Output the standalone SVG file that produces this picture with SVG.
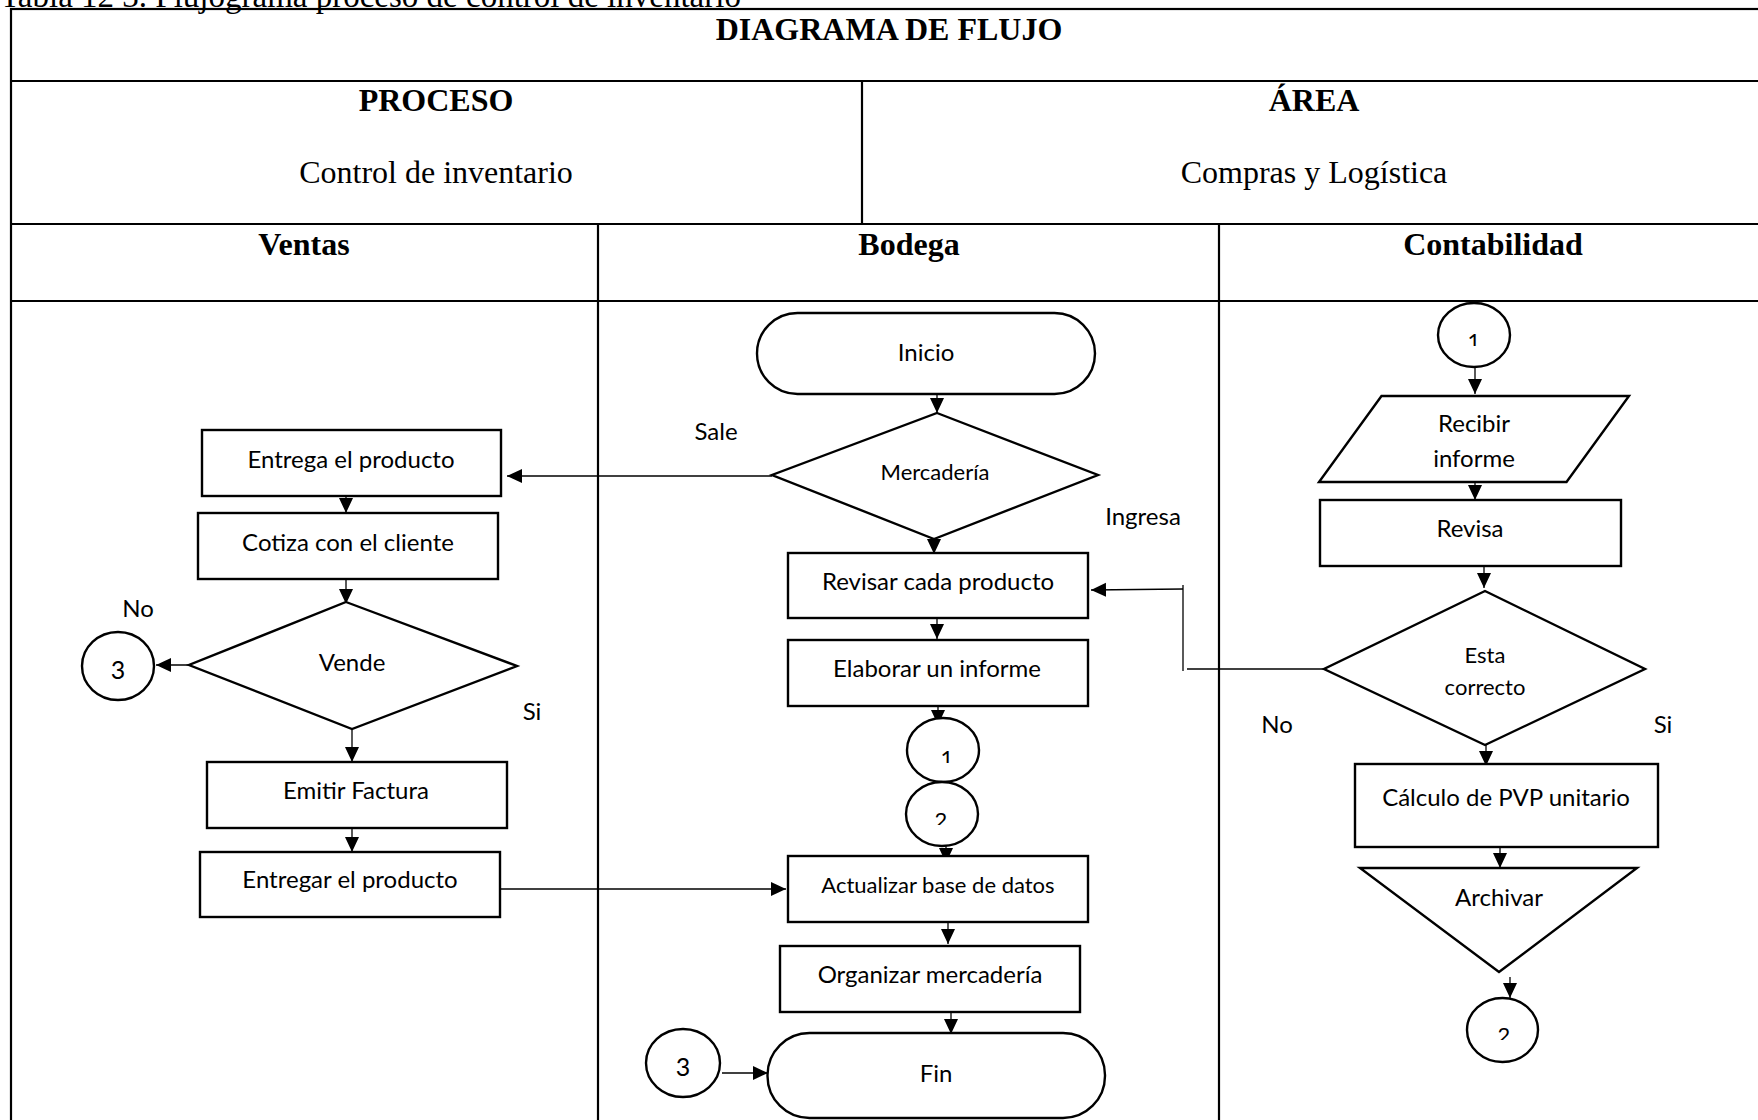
<svg xmlns="http://www.w3.org/2000/svg" width="1758" height="1120" viewBox="0 0 1758 1120">
<style>
.hd{font-family:"Liberation Serif","Times New Roman",serif;font-size:32px;fill:#000;text-anchor:middle}
.b{font-weight:bold}
.t{font-family:Lato,"Open Sans",sans-serif;font-size:24px;fill:#000;text-anchor:middle}
.s{font-size:22px}
.d{font-size:25px}
.grid{fill:none;stroke:#000;stroke-width:2.2}
.shape{fill:#fff;stroke:#000;stroke-width:2.4}
.c{fill:none;stroke:#000;stroke-width:1.3}
</style>
<defs>
<marker id="ah" markerUnits="userSpaceOnUse" markerWidth="16" markerHeight="15" refX="15" refY="7" orient="auto">
<path d="M0,0 L15,7 L0,14 Z" fill="#000"/>
</marker>
<clipPath id="cl1"><rect x="900" y="700" width="90" height="63"/></clipPath>
<clipPath id="cl2"><rect x="900" y="790" width="90" height="35"/></clipPath>
<clipPath id="cl3"><rect x="1430" y="300" width="90" height="46"/></clipPath>
<clipPath id="cl4"><rect x="1460" y="1000" width="90" height="40"/></clipPath>
</defs>
<rect width="1758" height="1120" fill="#fff"/>
<text class="hd" x="0" y="7" style="text-anchor:start;font-size:33px">Tabla 12 3. Flujograma proceso de control de inventario</text>
<g id="table">
<rect x="11" y="9" width="1756" height="1130" fill="#fff" class="grid"/>
<line class="grid" x1="11" y1="81" x2="1767" y2="81"/>
<line class="grid" x1="11" y1="224" x2="1767" y2="224"/>
<line class="grid" x1="11" y1="301" x2="1767" y2="301"/>
<line class="grid" x1="862" y1="81" x2="862" y2="224"/>
<line class="grid" x1="598" y1="224" x2="598" y2="1130"/>
<line class="grid" x1="1219" y1="224" x2="1219" y2="1130"/>
<text class="hd b" x="889" y="40">DIAGRAMA DE FLUJO</text>
<text class="hd b" x="436" y="111">PROCESO</text>
<text class="hd" x="436" y="183">Control de inventario</text>
<text class="hd b" x="1314" y="111">ÁREA</text>
<text class="hd" x="1314" y="183">Compras y Logística</text>
<text class="hd b" x="304" y="255">Ventas</text>
<text class="hd b" x="909" y="255">Bodega</text>
<text class="hd b" x="1493" y="255">Contabilidad</text>
</g>
<g id="connectors">
<line class="c" x1="937" y1="394" x2="937" y2="413" marker-end="url(#ah)"/>
<line class="c" x1="934" y1="539" x2="934" y2="554" marker-end="url(#ah)"/>
<line class="c" x1="772" y1="476" x2="507" y2="476" marker-end="url(#ah)"/>
<line class="c" x1="937" y1="616" x2="937" y2="639" marker-end="url(#ah)"/>
<line class="c" x1="938" y1="705" x2="938" y2="725" marker-end="url(#ah)"/>
<line class="c" x1="946" y1="843" x2="946" y2="863" marker-end="url(#ah)"/>
<line class="c" x1="500" y1="889" x2="786" y2="889" marker-end="url(#ah)"/>
<line class="c" x1="948" y1="918" x2="948" y2="944" marker-end="url(#ah)"/>
<line class="c" x1="951" y1="1012" x2="951" y2="1034" marker-end="url(#ah)"/>
<line class="c" x1="722" y1="1073" x2="768" y2="1073" marker-end="url(#ah)"/>
<line class="c" x1="346" y1="496" x2="346" y2="513" marker-end="url(#ah)"/>
<line class="c" x1="346" y1="579" x2="346" y2="604" marker-end="url(#ah)"/>
<line class="c" x1="189" y1="665" x2="156" y2="665" marker-end="url(#ah)"/>
<line class="c" x1="352" y1="729" x2="352" y2="762" marker-end="url(#ah)"/>
<line class="c" x1="352" y1="828" x2="352" y2="852" marker-end="url(#ah)"/>
<line class="c" x1="1475" y1="367" x2="1475" y2="394" marker-end="url(#ah)"/>
<line class="c" x1="1475" y1="480" x2="1475" y2="500" marker-end="url(#ah)"/>
<line class="c" x1="1484" y1="567" x2="1484" y2="588" marker-end="url(#ah)"/>
<line class="c" x1="1486" y1="745" x2="1486" y2="766" marker-end="url(#ah)"/>
<line class="c" x1="1500" y1="845" x2="1500" y2="868" marker-end="url(#ah)"/>
<line class="c" x1="1510" y1="977" x2="1510" y2="998" marker-end="url(#ah)"/>
<line class="c" x1="1324" y1="669" x2="1187" y2="669"/>
<line class="c" x1="1183" y1="671" x2="1183" y2="585"/>
<line class="c" x1="1183" y1="589" x2="1091" y2="590" marker-end="url(#ah)"/>
</g>
<g id="n-inicio"><rect class="shape" x="757" y="313" width="338" height="81" rx="40.5"/><text class="t" x="926" y="361">Inicio</text></g>
<g id="n-mercaderia"><polygon class="shape" points="937,413 1098,475 934,539 772,475"/><text class="t s" x="935" y="480">Mercadería</text></g>
<g id="l-sale"><text class="t" x="716" y="440">Sale</text></g>
<g id="l-ingresa"><text class="t" x="1143" y="525">Ingresa</text></g>
<g id="n-revisar"><rect class="shape" x="788" y="553" width="300" height="65"/><text class="t" x="938" y="590">Revisar cada producto</text></g>
<g id="n-elaborar"><rect class="shape" x="788" y="640" width="300" height="66"/><text class="t" x="937" y="677">Elaborar un informe</text></g>
<g id="n-c1b"><ellipse class="shape" cx="943" cy="750" rx="36" ry="32"/><text class="t s" x="947" y="766" clip-path="url(#cl1)">1</text></g>
<g id="n-c2b"><ellipse class="shape" cx="942" cy="814" rx="36" ry="32"/><text class="t s" x="941" y="828" clip-path="url(#cl2)">2</text></g>
<g id="n-actualizar"><rect class="shape" x="788" y="856" width="300" height="66"/><text class="t s" x="938" y="893">Actualizar base de datos</text></g>
<g id="n-organizar"><rect class="shape" x="780" y="946" width="300" height="66"/><text class="t" x="930" y="983">Organizar mercadería</text></g>
<g id="n-fin"><rect class="shape" x="767.5" y="1033" width="337.5" height="85" rx="42"/><text class="t" x="936" y="1082">Fin</text></g>
<g id="n-c3b"><ellipse class="shape" cx="683" cy="1063" rx="37" ry="34"/><text class="t d" x="683" y="1076">3</text></g>
<g id="n-entrega"><rect class="shape" x="202" y="430" width="299" height="66"/><text class="t" x="351" y="468">Entrega el producto</text></g>
<g id="n-cotiza"><rect class="shape" x="198" y="513" width="300" height="66"/><text class="t" x="348" y="551">Cotiza con el cliente</text></g>
<g id="n-vende"><polygon class="shape" points="346,602 517,666 352,729 189,665"/><text class="t" x="352" y="671">Vende</text></g>
<g id="n-c3v"><ellipse class="shape" cx="118" cy="666" rx="36" ry="34"/><text class="t d" x="118" y="679">3</text></g>
<g id="l-no-v"><text class="t" x="138" y="617">No</text></g>
<g id="l-si-v"><text class="t" x="532" y="720">Si</text></g>
<g id="n-emitir"><rect class="shape" x="207" y="762" width="300" height="66"/><text class="t" x="356" y="799">Emitir Factura</text></g>
<g id="n-entregar"><rect class="shape" x="200" y="852" width="300" height="65"/><text class="t" x="350" y="888">Entregar el producto</text></g>
<g id="n-c1c"><ellipse class="shape" cx="1474" cy="335" rx="36" ry="32"/><text class="t s" x="1474" y="349" clip-path="url(#cl3)">1</text></g>
<g id="n-recibir"><polygon class="shape" points="1381.5,396 1629,396 1566.5,482 1319,482"/><text class="t" x="1474" y="432">Recibir</text><text class="t" x="1474" y="467">informe</text></g>
<g id="n-revisa"><rect class="shape" x="1320" y="500" width="301" height="66"/><text class="t" x="1470" y="537">Revisa</text></g>
<g id="n-correcto"><polygon class="shape" points="1485,591 1645,669 1485,745 1324,669"/><text class="t s" x="1485" y="663">Esta</text><text class="t s" x="1485" y="695">correcto</text></g>
<g id="l-no-c"><text class="t" x="1277" y="733">No</text></g>
<g id="l-si-c"><text class="t" x="1663" y="733">Si</text></g>
<g id="n-calculo"><rect class="shape" x="1355" y="764" width="303" height="83"/><text class="t" x="1506" y="806">Cálculo de PVP unitario</text></g>
<g id="n-archivar"><polygon class="shape" points="1360,868 1637,868 1499,972"/><text class="t" x="1499" y="906">Archivar</text></g>
<g id="n-c2c"><ellipse class="shape" cx="1502.5" cy="1030" rx="35.5" ry="32"/><text class="t s" x="1504" y="1043" clip-path="url(#cl4)">2</text></g>
</svg>
